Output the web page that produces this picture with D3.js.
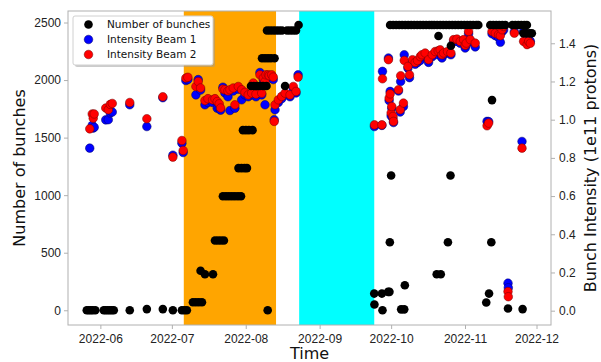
<!DOCTYPE html>
<html>
<head>
<meta charset="utf-8">
<script src="https://cdn.jsdelivr.net/npm/d3@7"></script>
<style>
body { margin: 0; background: #fff; }
svg { font-family: "DejaVu Sans", sans-serif; }
.axis path, .axis line { stroke: #b0b0b0; }
.axis text { fill: #222; font-size: 12px; }
</style>
</head>
<body>
<svg width="601" height="362"></svg>
<script>
// number of bunches: time stamps and values
var bunchTimes = [
  "2022-05-26 07","2022-05-27 03","2022-05-27 23","2022-05-28 19","2022-05-29 21",
  "2022-06-02 10","2022-06-03 06","2022-06-04 03","2022-06-04 23","2022-06-05 19","2022-06-06 15",
  "2022-06-13 08","2022-06-20 12","2022-06-27 05","2022-07-01 10",
  "2022-07-05 05","2022-07-06 06","2022-07-07 07",
  "2022-07-09 20","2022-07-11 02","2022-07-12 08","2022-07-13 15",
  "2022-07-13 01","2022-07-14 21","2022-07-18 06",
  "2022-07-19 02","2022-07-20 08","2022-07-21 14","2022-07-22 20",
  "2022-07-22 10","2022-07-23 17","2022-07-24 23","2022-07-26 05","2022-07-27 11","2022-07-28 18","2022-07-30 00",
  "2022-07-28 23","2022-07-30 05","2022-07-31 11","2022-08-01 12",
  "2022-07-30 20","2022-08-01 02","2022-08-02 08","2022-08-03 20",
  "2022-08-03 05","2022-08-04 11","2022-08-05 17","2022-08-06 23","2022-08-08 06","2022-08-09 17",
  "2022-08-07 20","2022-08-09 02","2022-08-10 08","2022-08-11 14","2022-08-13 02",
  "2022-08-10 05",
  "2022-08-09 22","2022-08-11 04","2022-08-12 11","2022-08-13 17","2022-08-14 23","2022-08-16 05",
  "2022-08-17 12",
  "2022-08-18 08","2022-08-19 14","2022-08-20 20","2022-08-22 02","2022-08-23 04",
  "2022-09-23 22","2022-09-24 00","2022-09-27 03","2022-09-27 09","2022-09-29 18","2022-09-30 07",
  "2022-09-30 11","2022-10-01 00",
  "2022-09-30 14","2022-10-01 21","2022-10-03 03","2022-10-04 09","2022-10-05 15","2022-10-06 22",
  "2022-10-08 04","2022-10-09 10","2022-10-10 16","2022-10-11 23","2022-10-13 05","2022-10-14 11",
  "2022-10-15 17","2022-10-17 00","2022-10-18 01",
  "2022-10-05 05","2022-10-06 12","2022-10-06 18",
  "2022-10-19 02","2022-10-20 08","2022-10-21 15","2022-10-22 21","2022-10-24 03","2022-10-25 09",
  "2022-10-26 16","2022-10-27 22","2022-10-29 04","2022-10-30 10","2022-10-31 17","2022-11-01 23",
  "2022-11-03 05","2022-11-04 11","2022-11-05 18","2022-11-06 14",
  "2022-10-20 03","2022-10-21 20","2022-10-20 21","2022-10-24 20","2022-10-25 22","2022-10-26 02",
  "2022-11-09 22","2022-11-11 02","2022-11-12 01","2022-11-12 08",
  "2022-11-11 15","2022-11-12 21","2022-11-14 03","2022-11-15 09","2022-11-16 16","2022-11-17 22",
  "2022-11-19 01",
  "2022-11-20 21","2022-11-22 03","2022-11-23 09","2022-11-24 15","2022-11-25 22","2022-11-26 23",
  "2022-11-25 12","2022-11-26 18","2022-11-28 00","2022-11-29 01",
  "2022-11-25 04"
];
var bunchValues = [
  0,0,0,0,0,
  0,0,0,0,0,0,
  0,10,10,0,
  0,0,0,
  70,70,70,70,
  343,313,313,
  606,606,606,606,
  991,991,991,991,991,991,991,
  1235,1235,1235,1235,
  1565,1565,1565,1565,
  1948,1948,1948,1948,1948,1948,
  2189,2189,2189,2189,2189,
  0,
  2430,2430,2430,2430,2430,2430,
  1948,
  2430,2430,2430,2430,2478,
  145,50,145,0,160,160,
  591,1171,
  2478,2478,2478,2478,2478,2478,
  2478,2478,2478,2478,2478,2478,
  2478,2478,2478,
  8,8,217,
  2478,2478,2478,2478,2478,2478,
  2478,2478,2478,2478,2478,2478,
  2478,2478,2478,2478,
  313,313,2383,591,1171,2298,
  67,145,591,1826,
  2478,2478,2478,2478,2478,2478,
  15,
  2478,2478,2478,2478,2478,2478,
  2406,2406,2406,2406,
  10
];

// bunch intensity of the two beams (1e11 protons)
var intensityTimes = [
  "2022-05-27 13","2022-05-28 14","2022-05-29 00","2022-05-29 10",
  "2022-06-03 06","2022-06-04 08","2022-06-05 04","2022-06-06 00",
  "2022-06-13 08","2022-06-20 12","2022-06-27 05","2022-07-01 10","2022-07-05 05","2022-07-05 18",
  "2022-07-06 21","2022-07-07 17","2022-07-11 02","2022-07-12 01","2022-07-13 01","2022-07-14 21",
  "2022-07-16 03","2022-07-18 02","2022-07-19 02","2022-07-20 01","2022-07-20 21","2022-07-21 11",
  "2022-07-22 10","2022-07-23 06","2022-07-24 13","2022-07-25 09","2022-07-26 18","2022-07-27 11",
  "2022-07-28 21","2022-07-30 07","2022-07-31 16","2022-08-02 01","2022-08-03 12","2022-08-04 04",
  "2022-08-05 07","2022-08-06 23","2022-08-07 17","2022-08-08 09","2022-08-09 02","2022-08-09 12",
  "2022-08-10 11","2022-08-10 21","2022-08-11 21","2022-08-12 13","2022-08-12 23","2022-08-13 07",
  "2022-08-14 16","2022-08-16 02","2022-08-17 12","2022-08-19 14","2022-08-20 23","2022-08-22 02",
  "2022-08-22 23",
  "2022-09-24 00","2022-09-27 03","2022-09-27 09","2022-09-29 21","2022-09-30 04","2022-09-30 14",
  "2022-10-01 00","2022-10-01 07","2022-10-01 18","2022-10-02 00","2022-10-04 02","2022-10-04 19",
  "2022-10-05 00","2022-10-06 04","2022-10-06 12","2022-10-08 01","2022-10-08 17","2022-10-09 23",
  "2022-10-11 02","2022-10-12 02","2022-10-13 05","2022-10-13 22","2022-10-15 07","2022-10-16 17",
  "2022-10-18 06","2022-10-19 12","2022-10-20 18","2022-10-21 14","2022-10-22 08","2022-10-23 00",
  "2022-10-24 16","2022-10-26 02","2022-10-27 05","2022-10-28 15","2022-10-30 00","2022-10-31 10",
  "2022-11-01 02","2022-11-01 13","2022-11-02 12","2022-11-03 05","2022-11-05 07",
  "2022-11-10 06","2022-11-10 22","2022-11-12 08","2022-11-13 17","2022-11-15 02","2022-11-15 20",
  "2022-11-16 13","2022-11-17 05","2022-11-19 01","2022-11-19 04","2022-11-21 17","2022-11-24 22",
  "2022-11-25 14","2022-11-27 01","2022-11-27 17","2022-11-28 10"
];
var beam1 = [
  0.851,0.97,0.956,0.96,
  0.999,1.0,1.035,1.04,
  1.078,0.964,1.115,0.814,0.877,0.828,
  1.205,1.21,1.13,1.21,1.155,1.078,
  1.09,1.09,1.10,1.06,1.06,1.05,
  1.17,1.14,1.12,1.048,1.15,1.06,
  1.16,1.104,1.13,1.12,1.13,1.18,
  1.12,1.247,1.13,1.21,1.078,1.22,
  1.22,1.22,1.22,1.21,1.0,1.052,
  1.09,1.11,1.13,1.12,1.16,1.14,
  1.235,
  0.964,0.97,1.253,1.323,1.10,1.148,
  1.02,1.06,1.008,0.985,1.15,1.04,
  1.2,1.069,1.34,1.27,1.22,1.30,
  1.29,1.30,1.31,1.33,1.34,1.30,
  1.33,1.35,1.34,1.35,1.323,1.34,
  1.35,1.34,1.41,1.41,1.40,1.41,
  1.375,1.39,1.45,1.41,1.381,
  0.991,0.99,1.45,1.44,1.43,1.405,
  1.46,1.47,0.144,0.12,1.46,0.886,
  1.462,1.40,1.42,1.41
];
var beam2 = [
  0.952,1.03,1.008,1.03,
  1.061,1.052,1.08,1.085,
  1.09,1.005,1.12,0.804,0.891,0.839,
  1.218,1.222,1.174,1.20,1.166,1.10,
  1.11,1.104,1.11,1.095,1.083,1.061,
  1.16,1.157,1.15,1.157,1.166,1.078,
  1.174,1.157,1.143,1.13,1.139,1.192,
  1.134,1.235,1.139,1.218,1.2,1.235,
  1.235,1.23,1.235,1.223,0.991,1.078,
  1.104,1.122,1.139,1.13,1.174,1.148,
  1.223,
  0.973,0.973,1.214,1.314,1.113,1.135,
  1.035,1.069,1.017,0.991,1.157,1.052,
  1.23,1.087,1.31,1.279,1.235,1.314,
  1.30,1.31,1.33,1.34,1.349,1.314,
  1.34,1.357,1.36,1.366,1.34,1.349,
  1.357,1.349,1.419,1.422,1.41,1.419,
  1.39,1.401,1.462,1.419,1.401,
  0.968,0.982,1.462,1.453,1.445,1.44,
  1.471,1.488,0.1,0.073,1.453,0.851,
  1.41,1.393,1.41,1.40
];

// shaded periods
var bandStarts = ["2022-07-06 00", "2022-08-23 10"];
var bandEnds = ["2022-08-13 17", "2022-09-23 22"];
var bandColors = ["orange", "cyan"];

var parseTime = d3.timeParse("%Y-%m-%d %H");

var svg = d3.select("svg"),
    margin = {top: 11, right: 50, bottom: 37, left: 68},
    width = 601 - margin.left - margin.right,
    height = 362 - margin.top - margin.bottom,
    g = svg.append("g").attr("transform", "translate(" + margin.left + "," + margin.top + ")");

var x = d3.scaleTime()
    .domain([parseTime("2022-05-18 10"), parseTime("2022-12-07 02")])
    .range([0, width]);
var yLeft = d3.scaleLinear().domain([-128, 2600]).range([height, 0]);
var yRight = d3.scaleLinear().domain([-0.075, 1.569]).range([height, 0]);

// bands
g.selectAll("rect.band")
    .data(bandStarts)
    .enter().append("rect")
    .attr("class", "band")
    .attr("x", function(d) { return x(parseTime(d)); })
    .attr("y", 0)
    .attr("width", function(d, i) { return x(parseTime(bandEnds[i])) - x(parseTime(d)); })
    .attr("height", height)
    .attr("fill", function(d, i) { return bandColors[i]; });

// frame
g.append("rect")
    .attr("width", width)
    .attr("height", height)
    .attr("fill", "none")
    .attr("stroke", "#b0b0b0");

// axes
g.append("g")
    .attr("class", "axis axis--x")
    .attr("transform", "translate(0," + height + ")")
    .call(d3.axisBottom(x).ticks(d3.timeMonth.every(1)).tickFormat(d3.timeFormat("%Y-%m")).tickSizeOuter(0).tickSize(4).tickPadding(5));

g.append("g")
    .attr("class", "axis axis--y")
    .call(d3.axisLeft(yLeft).tickValues([0, 500, 1000, 1500, 2000, 2500]).tickFormat(d3.format("d")).tickSizeOuter(0).tickSize(4).tickPadding(3));

g.append("g")
    .attr("class", "axis axis--y2")
    .attr("transform", "translate(" + width + ",0)")
    .call(d3.axisRight(yRight).tickValues([0, 0.2, 0.4, 0.6, 0.8, 1.0, 1.2, 1.4]).tickFormat(d3.format(".1f")).tickSizeOuter(0).tickSize(4).tickPadding(4));

g.selectAll(".axis .domain").remove();

// axis titles
svg.append("text")
    .attr("transform", "translate(19," + (margin.top + height / 2) + ") rotate(-90)")
    .attr("text-anchor", "middle")
    .attr("dy", "0.35em")
    .style("font-size", "16px")
    .attr("fill", "#111")
    .text("Number of bunches");

svg.append("text")
    .attr("transform", "translate(590," + (margin.top + height / 2) + ") rotate(-90)")
    .attr("text-anchor", "middle")
    .attr("dy", "0.35em")
    .style("font-size", "16px")
    .attr("fill", "#111")
    .text("Bunch Intensity (1e11 protons)");

svg.append("text")
    .attr("x", margin.left + width / 2)
    .attr("y", 359)
    .attr("text-anchor", "middle")
    .style("font-size", "16px")
    .attr("fill", "#111")
    .text("Time");

var r = 4.3;

g.selectAll("circle.b1")
    .data(intensityTimes)
    .enter().append("circle")
    .attr("class", "b1")
    .attr("cx", function(d) { return x(parseTime(d)); })
    .attr("cy", function(d, i) { return yRight(beam1[i]); })
    .attr("r", r)
    .attr("fill", "#0000ff")
    .attr("stroke", "#000060")
    .attr("stroke-width", 0.5);

g.selectAll("circle.b2")
    .data(intensityTimes)
    .enter().append("circle")
    .attr("class", "b2")
    .attr("cx", function(d) { return x(parseTime(d)); })
    .attr("cy", function(d, i) { return yRight(beam2[i]); })
    .attr("r", r)
    .attr("fill", "#ff0000")
    .attr("stroke", "#700000")
    .attr("stroke-width", 0.5);

g.selectAll("circle.nb")
    .data(bunchTimes)
    .enter().append("circle")
    .attr("class", "nb")
    .attr("cx", function(d) { return x(parseTime(d)); })
    .attr("cy", function(d, i) { return yLeft(bunchValues[i]); })
    .attr("r", r)
    .attr("fill", "#000");

// legend
var legend = svg.append("g").attr("transform", "translate(73,16)");
legend.append("rect")
    .attr("x", 2).attr("y", 2)
    .attr("width", 140).attr("height", 49)
    .attr("rx", 2)
    .attr("fill", "#999").attr("opacity", 0.5);
legend.append("rect")
    .attr("width", 140).attr("height", 49)
    .attr("rx", 2)
    .attr("fill", "#fff").attr("stroke", "#d0d0d0");
var legendItems = [
    {label: "Number of bunches", color: "#000", edge: "none"},
    {label: "Intensity Beam 1", color: "#0000ff", edge: "#000060"},
    {label: "Intensity Beam 2", color: "#ff0000", edge: "#700000"}
];
legendItems.forEach(function(item, i) {
    legend.append("circle")
        .attr("cx", 15.5).attr("cy", 8.5 + i * 15)
        .attr("r", r)
        .attr("fill", item.color)
        .attr("stroke", item.edge)
        .attr("stroke-width", 0.5);
    legend.append("text")
        .attr("x", 34).attr("y", 8.5 + i * 15)
        .attr("dy", "0.35em")
        .style("font-size", "10.5px")
        .attr("fill", "#111")
        .text(item.label);
});
</script>
</body>
</html>
